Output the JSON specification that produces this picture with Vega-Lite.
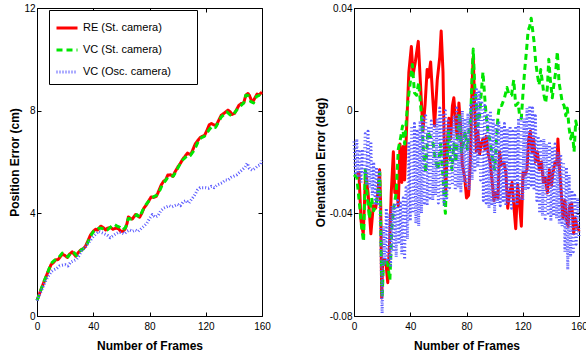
{
"$schema": "https://vega.github.io/schema/vega-lite/v6.json",
"autosize": {"type": "none"},
"padding": {"left": 37, "top": 8, "right": 549, "bottom": 348},
"background": "white",
"spacing": 92,
"bounds": "flush",
"resolve": {"scale": {"color": "independent", "strokeDash": "independent", "strokeWidth": "independent"}},
"datasets": {
"pos": [
{"f":0,"v":0.6,"s":"RE (St. camera)"},{"f":1,"v":0.75,"s":"RE (St. camera)"},{"f":3,"v":1.05,"s":"RE (St. camera)"},{"f":6,"v":1.47,"s":"RE (St. camera)"},{"f":8,"v":1.75,"s":"RE (St. camera)"},{"f":10,"v":2.0,"s":"RE (St. camera)"},{"f":12,"v":2.1,"s":"RE (St. camera)"},{"f":13,"v":2.18,"s":"RE (St. camera)"},{"f":15,"v":2.2,"s":"RE (St. camera)"},{"f":18,"v":2.41,"s":"RE (St. camera)"},{"f":20,"v":2.35,"s":"RE (St. camera)"},{"f":21.5,"v":2.28,"s":"RE (St. camera)"},{"f":23,"v":2.4,"s":"RE (St. camera)"},{"f":25,"v":2.5,"s":"RE (St. camera)"},{"f":27.5,"v":2.33,"s":"RE (St. camera)"},{"f":29,"v":2.45,"s":"RE (St. camera)"},{"f":31,"v":2.57,"s":"RE (St. camera)"},{"f":33,"v":2.62,"s":"RE (St. camera)"},{"f":34.5,"v":2.72,"s":"RE (St. camera)"},{"f":36,"v":2.9,"s":"RE (St. camera)"},{"f":38,"v":3.15,"s":"RE (St. camera)"},{"f":40,"v":3.3,"s":"RE (St. camera)"},{"f":41.7,"v":3.38,"s":"RE (St. camera)"},{"f":43,"v":3.35,"s":"RE (St. camera)"},{"f":45.3,"v":3.5,"s":"RE (St. camera)"},{"f":47,"v":3.45,"s":"RE (St. camera)"},{"f":48.8,"v":3.35,"s":"RE (St. camera)"},{"f":50,"v":3.42,"s":"RE (St. camera)"},{"f":52.4,"v":3.45,"s":"RE (St. camera)"},{"f":54,"v":3.38,"s":"RE (St. camera)"},{"f":56,"v":3.42,"s":"RE (St. camera)"},{"f":58,"v":3.4,"s":"RE (St. camera)"},{"f":59.5,"v":3.3,"s":"RE (St. camera)"},{"f":61,"v":3.3,"s":"RE (St. camera)"},{"f":62.6,"v":3.38,"s":"RE (St. camera)"},{"f":64,"v":3.6,"s":"RE (St. camera)"},{"f":65,"v":3.86,"s":"RE (St. camera)"},{"f":66.5,"v":3.8,"s":"RE (St. camera)"},{"f":67.8,"v":3.78,"s":"RE (St. camera)"},{"f":70,"v":3.95,"s":"RE (St. camera)"},{"f":71.5,"v":3.9,"s":"RE (St. camera)"},{"f":73,"v":3.85,"s":"RE (St. camera)"},{"f":74.5,"v":4.0,"s":"RE (St. camera)"},{"f":76,"v":4.2,"s":"RE (St. camera)"},{"f":78,"v":4.35,"s":"RE (St. camera)"},{"f":79.6,"v":4.5,"s":"RE (St. camera)"},{"f":81.2,"v":4.64,"s":"RE (St. camera)"},{"f":83,"v":4.62,"s":"RE (St. camera)"},{"f":84.8,"v":4.66,"s":"RE (St. camera)"},{"f":86,"v":4.8,"s":"RE (St. camera)"},{"f":88.3,"v":5.1,"s":"RE (St. camera)"},{"f":90,"v":5.25,"s":"RE (St. camera)"},{"f":91.5,"v":5.3,"s":"RE (St. camera)"},{"f":93,"v":5.49,"s":"RE (St. camera)"},{"f":95,"v":5.5,"s":"RE (St. camera)"},{"f":96.6,"v":5.44,"s":"RE (St. camera)"},{"f":98,"v":5.6,"s":"RE (St. camera)"},{"f":100.2,"v":5.81,"s":"RE (St. camera)"},{"f":102,"v":5.95,"s":"RE (St. camera)"},{"f":103.5,"v":6.1,"s":"RE (St. camera)"},{"f":105,"v":6.2,"s":"RE (St. camera)"},{"f":107,"v":6.35,"s":"RE (St. camera)"},{"f":108.5,"v":6.3,"s":"RE (St. camera)"},{"f":109.7,"v":6.33,"s":"RE (St. camera)"},{"f":111,"v":6.5,"s":"RE (St. camera)"},{"f":112.5,"v":6.7,"s":"RE (St. camera)"},{"f":114.5,"v":6.85,"s":"RE (St. camera)"},{"f":116,"v":6.95,"s":"RE (St. camera)"},{"f":117.5,"v":7.0,"s":"RE (St. camera)"},{"f":119.2,"v":7.04,"s":"RE (St. camera)"},{"f":121,"v":7.25,"s":"RE (St. camera)"},{"f":122.5,"v":7.45,"s":"RE (St. camera)"},{"f":124,"v":7.5,"s":"RE (St. camera)"},{"f":125.5,"v":7.45,"s":"RE (St. camera)"},{"f":127.5,"v":7.43,"s":"RE (St. camera)"},{"f":129,"v":7.6,"s":"RE (St. camera)"},{"f":131,"v":7.82,"s":"RE (St. camera)"},{"f":133,"v":7.9,"s":"RE (St. camera)"},{"f":135.8,"v":8.02,"s":"RE (St. camera)"},{"f":137.5,"v":7.95,"s":"RE (St. camera)"},{"f":138.5,"v":7.85,"s":"RE (St. camera)"},{"f":140.5,"v":7.9,"s":"RE (St. camera)"},{"f":142,"v":8.05,"s":"RE (St. camera)"},{"f":143.5,"v":8.2,"s":"RE (St. camera)"},{"f":145.3,"v":8.28,"s":"RE (St. camera)"},{"f":147,"v":8.3,"s":"RE (St. camera)"},{"f":148.5,"v":8.6,"s":"RE (St. camera)"},{"f":150,"v":8.67,"s":"RE (St. camera)"},{"f":151,"v":8.6,"s":"RE (St. camera)"},{"f":152.5,"v":8.4,"s":"RE (St. camera)"},{"f":153.6,"v":8.35,"s":"RE (St. camera)"},{"f":155,"v":8.5,"s":"RE (St. camera)"},{"f":156.5,"v":8.65,"s":"RE (St. camera)"},{"f":157.2,"v":8.6,"s":"RE (St. camera)"},{"f":158.5,"v":8.65,"s":"RE (St. camera)"},{"f":160,"v":8.72,"s":"RE (St. camera)"},
{"f":0,"v":0.6,"s":"VC (St. camera)"},{"f":2,"v":0.9,"s":"VC (St. camera)"},{"f":5,"v":1.35,"s":"VC (St. camera)"},{"f":8,"v":1.75,"s":"VC (St. camera)"},{"f":10,"v":2.05,"s":"VC (St. camera)"},{"f":12,"v":2.15,"s":"VC (St. camera)"},{"f":15,"v":2.25,"s":"VC (St. camera)"},{"f":18,"v":2.45,"s":"VC (St. camera)"},{"f":20,"v":2.4,"s":"VC (St. camera)"},{"f":22,"v":2.3,"s":"VC (St. camera)"},{"f":24,"v":2.45,"s":"VC (St. camera)"},{"f":26,"v":2.5,"s":"VC (St. camera)"},{"f":28,"v":2.35,"s":"VC (St. camera)"},{"f":30,"v":2.5,"s":"VC (St. camera)"},{"f":32,"v":2.6,"s":"VC (St. camera)"},{"f":34,"v":2.65,"s":"VC (St. camera)"},{"f":36,"v":2.85,"s":"VC (St. camera)"},{"f":38,"v":3.1,"s":"VC (St. camera)"},{"f":40,"v":3.28,"s":"VC (St. camera)"},{"f":42,"v":3.35,"s":"VC (St. camera)"},{"f":44,"v":3.42,"s":"VC (St. camera)"},{"f":46,"v":3.42,"s":"VC (St. camera)"},{"f":48,"v":3.35,"s":"VC (St. camera)"},{"f":50,"v":3.35,"s":"VC (St. camera)"},{"f":52,"v":3.45,"s":"VC (St. camera)"},{"f":55,"v":3.57,"s":"VC (St. camera)"},{"f":57,"v":3.5,"s":"VC (St. camera)"},{"f":59,"v":3.45,"s":"VC (St. camera)"},{"f":61,"v":3.35,"s":"VC (St. camera)"},{"f":63,"v":3.45,"s":"VC (St. camera)"},{"f":65,"v":3.8,"s":"VC (St. camera)"},{"f":67,"v":3.78,"s":"VC (St. camera)"},{"f":69,"v":3.85,"s":"VC (St. camera)"},{"f":71,"v":3.95,"s":"VC (St. camera)"},{"f":73,"v":3.85,"s":"VC (St. camera)"},{"f":75,"v":4.1,"s":"VC (St. camera)"},{"f":77,"v":4.3,"s":"VC (St. camera)"},{"f":79,"v":4.45,"s":"VC (St. camera)"},{"f":81,"v":4.55,"s":"VC (St. camera)"},{"f":83,"v":4.65,"s":"VC (St. camera)"},{"f":85,"v":4.7,"s":"VC (St. camera)"},{"f":87,"v":4.85,"s":"VC (St. camera)"},{"f":89,"v":5.1,"s":"VC (St. camera)"},{"f":91,"v":5.25,"s":"VC (St. camera)"},{"f":93,"v":5.4,"s":"VC (St. camera)"},{"f":95,"v":5.45,"s":"VC (St. camera)"},{"f":97,"v":5.45,"s":"VC (St. camera)"},{"f":99,"v":5.65,"s":"VC (St. camera)"},{"f":101,"v":5.85,"s":"VC (St. camera)"},{"f":103,"v":6.05,"s":"VC (St. camera)"},{"f":105,"v":6.15,"s":"VC (St. camera)"},{"f":107,"v":6.25,"s":"VC (St. camera)"},{"f":109,"v":6.25,"s":"VC (St. camera)"},{"f":111,"v":6.4,"s":"VC (St. camera)"},{"f":113,"v":6.6,"s":"VC (St. camera)"},{"f":115,"v":6.85,"s":"VC (St. camera)"},{"f":117,"v":6.95,"s":"VC (St. camera)"},{"f":119,"v":7.0,"s":"VC (St. camera)"},{"f":121,"v":7.15,"s":"VC (St. camera)"},{"f":123,"v":7.3,"s":"VC (St. camera)"},{"f":125,"v":7.4,"s":"VC (St. camera)"},{"f":127,"v":7.35,"s":"VC (St. camera)"},{"f":129,"v":7.55,"s":"VC (St. camera)"},{"f":131,"v":7.75,"s":"VC (St. camera)"},{"f":133,"v":7.85,"s":"VC (St. camera)"},{"f":135,"v":7.95,"s":"VC (St. camera)"},{"f":137,"v":7.85,"s":"VC (St. camera)"},{"f":139,"v":7.8,"s":"VC (St. camera)"},{"f":141,"v":7.95,"s":"VC (St. camera)"},{"f":143,"v":8.1,"s":"VC (St. camera)"},{"f":145,"v":8.2,"s":"VC (St. camera)"},{"f":147,"v":8.3,"s":"VC (St. camera)"},{"f":148.5,"v":8.6,"s":"VC (St. camera)"},{"f":150,"v":8.6,"s":"VC (St. camera)"},{"f":152,"v":8.35,"s":"VC (St. camera)"},{"f":154,"v":8.3,"s":"VC (St. camera)"},{"f":156,"v":8.55,"s":"VC (St. camera)"},{"f":158,"v":8.6,"s":"VC (St. camera)"},{"f":160,"v":8.78,"s":"VC (St. camera)"},
{"f":0,"v":0.6,"s":"VC (Osc. camera)"},{"f":2,"v":0.85,"s":"VC (Osc. camera)"},{"f":4,"v":1.1,"s":"VC (Osc. camera)"},{"f":6,"v":1.35,"s":"VC (Osc. camera)"},{"f":8,"v":1.55,"s":"VC (Osc. camera)"},{"f":10,"v":1.72,"s":"VC (Osc. camera)"},{"f":12,"v":1.8,"s":"VC (Osc. camera)"},{"f":14,"v":1.85,"s":"VC (Osc. camera)"},{"f":16,"v":1.95,"s":"VC (Osc. camera)"},{"f":18,"v":1.98,"s":"VC (Osc. camera)"},{"f":20,"v":2.0,"s":"VC (Osc. camera)"},{"f":22,"v":1.95,"s":"VC (Osc. camera)"},{"f":24,"v":2.1,"s":"VC (Osc. camera)"},{"f":26,"v":2.15,"s":"VC (Osc. camera)"},{"f":28,"v":2.2,"s":"VC (Osc. camera)"},{"f":30,"v":2.35,"s":"VC (Osc. camera)"},{"f":32,"v":2.57,"s":"VC (Osc. camera)"},{"f":34,"v":2.65,"s":"VC (Osc. camera)"},{"f":36,"v":2.8,"s":"VC (Osc. camera)"},{"f":38,"v":2.95,"s":"VC (Osc. camera)"},{"f":40,"v":3.1,"s":"VC (Osc. camera)"},{"f":42,"v":3.2,"s":"VC (Osc. camera)"},{"f":44,"v":3.3,"s":"VC (Osc. camera)"},{"f":46,"v":3.25,"s":"VC (Osc. camera)"},{"f":48,"v":3.2,"s":"VC (Osc. camera)"},{"f":50,"v":3.15,"s":"VC (Osc. camera)"},{"f":52,"v":3.05,"s":"VC (Osc. camera)"},{"f":54,"v":3.12,"s":"VC (Osc. camera)"},{"f":56,"v":3.2,"s":"VC (Osc. camera)"},{"f":58,"v":3.26,"s":"VC (Osc. camera)"},{"f":60,"v":3.25,"s":"VC (Osc. camera)"},{"f":62,"v":3.2,"s":"VC (Osc. camera)"},{"f":64,"v":3.3,"s":"VC (Osc. camera)"},{"f":66,"v":3.35,"s":"VC (Osc. camera)"},{"f":68,"v":3.3,"s":"VC (Osc. camera)"},{"f":70,"v":3.35,"s":"VC (Osc. camera)"},{"f":72,"v":3.3,"s":"VC (Osc. camera)"},{"f":74,"v":3.4,"s":"VC (Osc. camera)"},{"f":76,"v":3.5,"s":"VC (Osc. camera)"},{"f":78,"v":3.6,"s":"VC (Osc. camera)"},{"f":80,"v":3.8,"s":"VC (Osc. camera)"},{"f":82,"v":3.95,"s":"VC (Osc. camera)"},{"f":84,"v":3.85,"s":"VC (Osc. camera)"},{"f":86,"v":3.9,"s":"VC (Osc. camera)"},{"f":88,"v":4.1,"s":"VC (Osc. camera)"},{"f":90,"v":4.2,"s":"VC (Osc. camera)"},{"f":92,"v":4.25,"s":"VC (Osc. camera)"},{"f":94,"v":4.3,"s":"VC (Osc. camera)"},{"f":96,"v":4.25,"s":"VC (Osc. camera)"},{"f":98,"v":4.3,"s":"VC (Osc. camera)"},{"f":100,"v":4.35,"s":"VC (Osc. camera)"},{"f":102,"v":4.3,"s":"VC (Osc. camera)"},{"f":104,"v":4.45,"s":"VC (Osc. camera)"},{"f":106,"v":4.5,"s":"VC (Osc. camera)"},{"f":108,"v":4.4,"s":"VC (Osc. camera)"},{"f":110,"v":4.55,"s":"VC (Osc. camera)"},{"f":112,"v":4.7,"s":"VC (Osc. camera)"},{"f":114,"v":4.9,"s":"VC (Osc. camera)"},{"f":116,"v":5.0,"s":"VC (Osc. camera)"},{"f":118,"v":5.0,"s":"VC (Osc. camera)"},{"f":120,"v":5.0,"s":"VC (Osc. camera)"},{"f":122,"v":4.98,"s":"VC (Osc. camera)"},{"f":124,"v":5.05,"s":"VC (Osc. camera)"},{"f":126,"v":5.0,"s":"VC (Osc. camera)"},{"f":128,"v":5.1,"s":"VC (Osc. camera)"},{"f":130,"v":5.15,"s":"VC (Osc. camera)"},{"f":132,"v":5.2,"s":"VC (Osc. camera)"},{"f":134,"v":5.3,"s":"VC (Osc. camera)"},{"f":136,"v":5.3,"s":"VC (Osc. camera)"},{"f":138,"v":5.4,"s":"VC (Osc. camera)"},{"f":140,"v":5.45,"s":"VC (Osc. camera)"},{"f":142,"v":5.5,"s":"VC (Osc. camera)"},{"f":144,"v":5.6,"s":"VC (Osc. camera)"},{"f":146,"v":5.7,"s":"VC (Osc. camera)"},{"f":148,"v":5.8,"s":"VC (Osc. camera)"},{"f":149.5,"v":5.95,"s":"VC (Osc. camera)"},{"f":151,"v":5.75,"s":"VC (Osc. camera)"},{"f":153,"v":5.68,"s":"VC (Osc. camera)"},{"f":155,"v":5.75,"s":"VC (Osc. camera)"},{"f":157,"v":5.85,"s":"VC (Osc. camera)"},{"f":159,"v":5.9,"s":"VC (Osc. camera)"},{"f":160,"v":6.05,"s":"VC (Osc. camera)"}
],
"ori": [
{"f":2,"v":-0.025,"s":"RE (St. camera)"},{"f":3.5,"v":-0.024,"s":"RE (St. camera)"},{"f":5,"v":-0.043,"s":"RE (St. camera)"},{"f":6.6,"v":-0.048,"s":"RE (St. camera)"},{"f":8.3,"v":-0.024,"s":"RE (St. camera)"},{"f":10,"v":-0.032,"s":"RE (St. camera)"},{"f":12,"v":-0.048,"s":"RE (St. camera)"},{"f":13.7,"v":-0.037,"s":"RE (St. camera)"},{"f":15.4,"v":-0.038,"s":"RE (St. camera)"},{"f":17,"v":-0.032,"s":"RE (St. camera)"},{"f":18.2,"v":-0.023,"s":"RE (St. camera)"},{"f":19,"v":-0.037,"s":"RE (St. camera)"},{"f":19.7,"v":-0.073,"s":"RE (St. camera)"},{"f":20.4,"v":-0.058,"s":"RE (St. camera)"},{"f":22,"v":-0.058,"s":"RE (St. camera)"},{"f":23,"v":-0.061,"s":"RE (St. camera)"},{"f":24,"v":-0.067,"s":"RE (St. camera)"},{"f":25.4,"v":-0.05,"s":"RE (St. camera)"},{"f":26.5,"v":-0.032,"s":"RE (St. camera)"},{"f":28,"v":-0.016,"s":"RE (St. camera)"},{"f":29,"v":-0.032,"s":"RE (St. camera)"},{"f":30.3,"v":-0.029,"s":"RE (St. camera)"},{"f":31.5,"v":-0.037,"s":"RE (St. camera)"},{"f":32.7,"v":-0.013,"s":"RE (St. camera)"},{"f":34,"v":-0.028,"s":"RE (St. camera)"},{"f":35,"v":-0.014,"s":"RE (St. camera)"},{"f":36,"v":-0.027,"s":"RE (St. camera)"},{"f":37.4,"v":-0.007,"s":"RE (St. camera)"},{"f":39,"v":0.015,"s":"RE (St. camera)"},{"f":40.8,"v":0.025,"s":"RE (St. camera)"},{"f":42,"v":0.014,"s":"RE (St. camera)"},{"f":43.6,"v":0.019,"s":"RE (St. camera)"},{"f":45.7,"v":0.027,"s":"RE (St. camera)"},{"f":47.4,"v":0.009,"s":"RE (St. camera)"},{"f":49,"v":-0.008,"s":"RE (St. camera)"},{"f":50.5,"v":0.002,"s":"RE (St. camera)"},{"f":52,"v":0.016,"s":"RE (St. camera)"},{"f":53,"v":0.013,"s":"RE (St. camera)"},{"f":54.5,"v":0.019,"s":"RE (St. camera)"},{"f":56,"v":0.005,"s":"RE (St. camera)"},{"f":57.3,"v":-0.006,"s":"RE (St. camera)"},{"f":59.2,"v":0.012,"s":"RE (St. camera)"},{"f":61,"v":0.021,"s":"RE (St. camera)"},{"f":62,"v":0.031,"s":"RE (St. camera)"},{"f":63.3,"v":0.015,"s":"RE (St. camera)"},{"f":64.4,"v":-0.021,"s":"RE (St. camera)"},{"f":65.2,"v":-0.032,"s":"RE (St. camera)"},{"f":66.3,"v":-0.013,"s":"RE (St. camera)"},{"f":67.5,"v":-0.003,"s":"RE (St. camera)"},{"f":68.7,"v":-0.011,"s":"RE (St. camera)"},{"f":70,"v":0.002,"s":"RE (St. camera)"},{"f":71,"v":0.005,"s":"RE (St. camera)"},{"f":72.3,"v":-0.004,"s":"RE (St. camera)"},{"f":73.5,"v":-0.011,"s":"RE (St. camera)"},{"f":74.6,"v":0.003,"s":"RE (St. camera)"},{"f":75.8,"v":-0.006,"s":"RE (St. camera)"},{"f":77,"v":-0.021,"s":"RE (St. camera)"},{"f":78.7,"v":-0.026,"s":"RE (St. camera)"},{"f":80,"v":-0.034,"s":"RE (St. camera)"},{"f":81.5,"v":-0.033,"s":"RE (St. camera)"},{"f":82.7,"v":-0.02,"s":"RE (St. camera)"},{"f":83.9,"v":0.009,"s":"RE (St. camera)"},{"f":84.8,"v":0.021,"s":"RE (St. camera)"},{"f":85.8,"v":0.002,"s":"RE (St. camera)"},{"f":87,"v":-0.016,"s":"RE (St. camera)"},{"f":88,"v":-0.008,"s":"RE (St. camera)"},{"f":89.3,"v":-0.017,"s":"RE (St. camera)"},{"f":90.5,"v":-0.013,"s":"RE (St. camera)"},{"f":91.7,"v":-0.011,"s":"RE (St. camera)"},{"f":93,"v":-0.015,"s":"RE (St. camera)"},{"f":94,"v":-0.01,"s":"RE (St. camera)"},{"f":95.3,"v":-0.016,"s":"RE (St. camera)"},{"f":97,"v":-0.021,"s":"RE (St. camera)"},{"f":98.3,"v":-0.028,"s":"RE (St. camera)"},{"f":99.5,"v":-0.035,"s":"RE (St. camera)"},{"f":101,"v":-0.032,"s":"RE (St. camera)"},{"f":102.4,"v":-0.034,"s":"RE (St. camera)"},{"f":103.5,"v":-0.016,"s":"RE (St. camera)"},{"f":104.7,"v":-0.021,"s":"RE (St. camera)"},{"f":106.6,"v":-0.02,"s":"RE (St. camera)"},{"f":108,"v":-0.024,"s":"RE (St. camera)"},{"f":109.3,"v":-0.038,"s":"RE (St. camera)"},{"f":110.7,"v":-0.032,"s":"RE (St. camera)"},{"f":112.4,"v":-0.028,"s":"RE (St. camera)"},{"f":113.8,"v":-0.038,"s":"RE (St. camera)"},{"f":115,"v":-0.046,"s":"RE (St. camera)"},{"f":116.4,"v":-0.029,"s":"RE (St. camera)"},{"f":117.8,"v":-0.037,"s":"RE (St. camera)"},{"f":119,"v":-0.045,"s":"RE (St. camera)"},{"f":120.2,"v":-0.024,"s":"RE (St. camera)"},{"f":121.6,"v":-0.025,"s":"RE (St. camera)"},{"f":123,"v":-0.023,"s":"RE (St. camera)"},{"f":124.2,"v":-0.011,"s":"RE (St. camera)"},{"f":125.4,"v":-0.008,"s":"RE (St. camera)"},{"f":126.6,"v":-0.016,"s":"RE (St. camera)"},{"f":127.8,"v":-0.011,"s":"RE (St. camera)"},{"f":129,"v":-0.02,"s":"RE (St. camera)"},{"f":130.4,"v":-0.016,"s":"RE (St. camera)"},{"f":131.8,"v":-0.023,"s":"RE (St. camera)"},{"f":133.3,"v":-0.02,"s":"RE (St. camera)"},{"f":134.7,"v":-0.028,"s":"RE (St. camera)"},{"f":136,"v":-0.026,"s":"RE (St. camera)"},{"f":137.5,"v":-0.032,"s":"RE (St. camera)"},{"f":139,"v":-0.023,"s":"RE (St. camera)"},{"f":140.4,"v":-0.029,"s":"RE (St. camera)"},{"f":141.5,"v":-0.024,"s":"RE (St. camera)"},{"f":143,"v":-0.02,"s":"RE (St. camera)"},{"f":144.2,"v":-0.021,"s":"RE (St. camera)"},{"f":145,"v":-0.011,"s":"RE (St. camera)"},{"f":146.3,"v":-0.024,"s":"RE (St. camera)"},{"f":147.5,"v":-0.033,"s":"RE (St. camera)"},{"f":148.6,"v":-0.042,"s":"RE (St. camera)"},{"f":150,"v":-0.035,"s":"RE (St. camera)"},{"f":151,"v":-0.042,"s":"RE (St. camera)"},{"f":152.2,"v":-0.045,"s":"RE (St. camera)"},{"f":153.4,"v":-0.037,"s":"RE (St. camera)"},{"f":154.8,"v":-0.036,"s":"RE (St. camera)"},{"f":156.2,"v":-0.048,"s":"RE (St. camera)"},{"f":157.4,"v":-0.042,"s":"RE (St. camera)"},{"f":158.6,"v":-0.045,"s":"RE (St. camera)"},{"f":160,"v":-0.047,"s":"RE (St. camera)"},
{"f":0,"v":-0.025,"s":"VC (St. camera)"},{"f":2,"v":-0.026,"s":"VC (St. camera)"},{"f":4,"v":-0.037,"s":"VC (St. camera)"},{"f":5.5,"v":-0.046,"s":"VC (St. camera)"},{"f":6.8,"v":-0.051,"s":"VC (St. camera)"},{"f":8,"v":-0.023,"s":"VC (St. camera)"},{"f":9.5,"v":-0.034,"s":"VC (St. camera)"},{"f":11,"v":-0.042,"s":"VC (St. camera)"},{"f":12.5,"v":-0.034,"s":"VC (St. camera)"},{"f":14,"v":-0.039,"s":"VC (St. camera)"},{"f":15.5,"v":-0.037,"s":"VC (St. camera)"},{"f":17,"v":-0.032,"s":"VC (St. camera)"},{"f":18.3,"v":-0.024,"s":"VC (St. camera)"},{"f":19.2,"v":-0.05,"s":"VC (St. camera)"},{"f":20,"v":-0.073,"s":"VC (St. camera)"},{"f":21,"v":-0.058,"s":"VC (St. camera)"},{"f":22.5,"v":-0.058,"s":"VC (St. camera)"},{"f":24,"v":-0.06,"s":"VC (St. camera)"},{"f":25.5,"v":-0.066,"s":"VC (St. camera)"},{"f":27,"v":-0.045,"s":"VC (St. camera)"},{"f":28.5,"v":-0.037,"s":"VC (St. camera)"},{"f":30,"v":-0.032,"s":"VC (St. camera)"},{"f":31.5,"v":-0.015,"s":"VC (St. camera)"},{"f":33,"v":-0.011,"s":"VC (St. camera)"},{"f":34.5,"v":-0.006,"s":"VC (St. camera)"},{"f":36,"v":-0.013,"s":"VC (St. camera)"},{"f":38,"v":0.002,"s":"VC (St. camera)"},{"f":40,"v":0.011,"s":"VC (St. camera)"},{"f":41.5,"v":0.018,"s":"VC (St. camera)"},{"f":43,"v":0.007,"s":"VC (St. camera)"},{"f":44.5,"v":0.006,"s":"VC (St. camera)"},{"f":46,"v":0.011,"s":"VC (St. camera)"},{"f":48,"v":-0.002,"s":"VC (St. camera)"},{"f":49.5,"v":-0.017,"s":"VC (St. camera)"},{"f":51,"v":-0.024,"s":"VC (St. camera)"},{"f":52.5,"v":-0.008,"s":"VC (St. camera)"},{"f":54,"v":-0.01,"s":"VC (St. camera)"},{"f":56,"v":-0.012,"s":"VC (St. camera)"},{"f":57.8,"v":-0.019,"s":"VC (St. camera)"},{"f":59.7,"v":-0.023,"s":"VC (St. camera)"},{"f":61.6,"v":-0.013,"s":"VC (St. camera)"},{"f":63.3,"v":-0.026,"s":"VC (St. camera)"},{"f":64.4,"v":-0.037,"s":"VC (St. camera)"},{"f":65,"v":-0.04,"s":"VC (St. camera)"},{"f":66,"v":-0.021,"s":"VC (St. camera)"},{"f":67.3,"v":-0.008,"s":"VC (St. camera)"},{"f":68.5,"v":-0.019,"s":"VC (St. camera)"},{"f":69.7,"v":-0.023,"s":"VC (St. camera)"},{"f":71,"v":-0.013,"s":"VC (St. camera)"},{"f":72.5,"v":-0.02,"s":"VC (St. camera)"},{"f":74,"v":-0.007,"s":"VC (St. camera)"},{"f":75,"v":-0.001,"s":"VC (St. camera)"},{"f":76.3,"v":-0.016,"s":"VC (St. camera)"},{"f":77.7,"v":-0.013,"s":"VC (St. camera)"},{"f":79,"v":-0.008,"s":"VC (St. camera)"},{"f":80.6,"v":-0.015,"s":"VC (St. camera)"},{"f":81.7,"v":-0.008,"s":"VC (St. camera)"},{"f":83,"v":-0.003,"s":"VC (St. camera)"},{"f":84,"v":0.015,"s":"VC (St. camera)"},{"f":84.8,"v":0.024,"s":"VC (St. camera)"},{"f":85.8,"v":0.01,"s":"VC (St. camera)"},{"f":87,"v":0.003,"s":"VC (St. camera)"},{"f":88,"v":-0.006,"s":"VC (St. camera)"},{"f":89.3,"v":-0.002,"s":"VC (St. camera)"},{"f":90.5,"v":0.007,"s":"VC (St. camera)"},{"f":91.7,"v":0.015,"s":"VC (St. camera)"},{"f":93,"v":0.005,"s":"VC (St. camera)"},{"f":94,"v":-0.002,"s":"VC (St. camera)"},{"f":95.3,"v":-0.008,"s":"VC (St. camera)"},{"f":96.4,"v":-0.011,"s":"VC (St. camera)"},{"f":97.6,"v":-0.015,"s":"VC (St. camera)"},{"f":98.8,"v":-0.02,"s":"VC (St. camera)"},{"f":100,"v":-0.023,"s":"VC (St. camera)"},{"f":101.2,"v":-0.013,"s":"VC (St. camera)"},{"f":102.4,"v":-0.002,"s":"VC (St. camera)"},{"f":103.5,"v":0.002,"s":"VC (St. camera)"},{"f":105,"v":0.002,"s":"VC (St. camera)"},{"f":107,"v":0.005,"s":"VC (St. camera)"},{"f":108.8,"v":0.009,"s":"VC (St. camera)"},{"f":110.3,"v":0.006,"s":"VC (St. camera)"},{"f":112,"v":0.006,"s":"VC (St. camera)"},{"f":113.6,"v":0.012,"s":"VC (St. camera)"},{"f":115,"v":0.002,"s":"VC (St. camera)"},{"f":116.7,"v":0.003,"s":"VC (St. camera)"},{"f":117.8,"v":-0.002,"s":"VC (St. camera)"},{"f":119,"v":-0.003,"s":"VC (St. camera)"},{"f":120.2,"v":0.007,"s":"VC (St. camera)"},{"f":121.4,"v":0.016,"s":"VC (St. camera)"},{"f":122.6,"v":0.023,"s":"VC (St. camera)"},{"f":123.8,"v":0.031,"s":"VC (St. camera)"},{"f":125,"v":0.033,"s":"VC (St. camera)"},{"f":126,"v":0.036,"s":"VC (St. camera)"},{"f":126.9,"v":0.032,"s":"VC (St. camera)"},{"f":128,"v":0.027,"s":"VC (St. camera)"},{"f":129.2,"v":0.019,"s":"VC (St. camera)"},{"f":130.4,"v":0.014,"s":"VC (St. camera)"},{"f":131.6,"v":0.01,"s":"VC (St. camera)"},{"f":132.8,"v":0.016,"s":"VC (St. camera)"},{"f":134,"v":0.011,"s":"VC (St. camera)"},{"f":135.1,"v":0.006,"s":"VC (St. camera)"},{"f":136.3,"v":0.003,"s":"VC (St. camera)"},{"f":137.5,"v":0.009,"s":"VC (St. camera)"},{"f":138.5,"v":0.02,"s":"VC (St. camera)"},{"f":139.6,"v":0.012,"s":"VC (St. camera)"},{"f":141,"v":0.005,"s":"VC (St. camera)"},{"f":142.3,"v":0.011,"s":"VC (St. camera)"},{"f":143.4,"v":0.015,"s":"VC (St. camera)"},{"f":144.6,"v":0.023,"s":"VC (St. camera)"},{"f":145.8,"v":0.011,"s":"VC (St. camera)"},{"f":147,"v":0.007,"s":"VC (St. camera)"},{"f":148.2,"v":0.003,"s":"VC (St. camera)"},{"f":149.4,"v":0.002,"s":"VC (St. camera)"},{"f":150.6,"v":-0.002,"s":"VC (St. camera)"},{"f":151.7,"v":0.001,"s":"VC (St. camera)"},{"f":153,"v":-0.007,"s":"VC (St. camera)"},{"f":154.1,"v":-0.011,"s":"VC (St. camera)"},{"f":155.3,"v":-0.008,"s":"VC (St. camera)"},{"f":156.5,"v":-0.016,"s":"VC (St. camera)"},{"f":157.7,"v":-0.004,"s":"VC (St. camera)"},{"f":158.8,"v":-0.007,"s":"VC (St. camera)"},{"f":160,"v":-0.007,"s":"VC (St. camera)"},
{"f":0,"v":-0.012,"s":"VC (Osc. camera)"},{"f":1,"v":-0.025,"s":"VC (Osc. camera)"},{"f":2,"v":-0.011,"s":"VC (Osc. camera)"},{"f":3,"v":-0.026,"s":"VC (Osc. camera)"},{"f":4,"v":-0.016,"s":"VC (Osc. camera)"},{"f":5,"v":-0.028,"s":"VC (Osc. camera)"},{"f":6,"v":-0.015,"s":"VC (Osc. camera)"},{"f":7,"v":-0.024,"s":"VC (Osc. camera)"},{"f":8,"v":-0.009,"s":"VC (Osc. camera)"},{"f":9,"v":-0.029,"s":"VC (Osc. camera)"},{"f":10,"v":-0.008,"s":"VC (Osc. camera)"},{"f":11,"v":-0.03,"s":"VC (Osc. camera)"},{"f":12,"v":-0.012,"s":"VC (Osc. camera)"},{"f":13,"v":-0.033,"s":"VC (Osc. camera)"},{"f":14,"v":-0.02,"s":"VC (Osc. camera)"},{"f":15,"v":-0.036,"s":"VC (Osc. camera)"},{"f":16,"v":-0.022,"s":"VC (Osc. camera)"},{"f":17,"v":-0.037,"s":"VC (Osc. camera)"},{"f":18,"v":-0.024,"s":"VC (Osc. camera)"},{"f":19,"v":-0.05,"s":"VC (Osc. camera)"},{"f":20,"v":-0.079,"s":"VC (Osc. camera)"},{"f":21,"v":-0.045,"s":"VC (Osc. camera)"},{"f":22,"v":-0.06,"s":"VC (Osc. camera)"},{"f":23,"v":-0.038,"s":"VC (Osc. camera)"},{"f":24,"v":-0.058,"s":"VC (Osc. camera)"},{"f":25,"v":-0.04,"s":"VC (Osc. camera)"},{"f":26,"v":-0.061,"s":"VC (Osc. camera)"},{"f":27,"v":-0.037,"s":"VC (Osc. camera)"},{"f":28,"v":-0.055,"s":"VC (Osc. camera)"},{"f":29,"v":-0.036,"s":"VC (Osc. camera)"},{"f":30,"v":-0.057,"s":"VC (Osc. camera)"},{"f":31,"v":-0.035,"s":"VC (Osc. camera)"},{"f":32,"v":-0.052,"s":"VC (Osc. camera)"},{"f":33,"v":-0.036,"s":"VC (Osc. camera)"},{"f":34,"v":-0.056,"s":"VC (Osc. camera)"},{"f":35,"v":-0.034,"s":"VC (Osc. camera)"},{"f":36,"v":-0.058,"s":"VC (Osc. camera)"},{"f":37,"v":-0.03,"s":"VC (Osc. camera)"},{"f":38,"v":-0.05,"s":"VC (Osc. camera)"},{"f":39,"v":-0.012,"s":"VC (Osc. camera)"},{"f":40,"v":-0.043,"s":"VC (Osc. camera)"},{"f":41,"v":-0.006,"s":"VC (Osc. camera)"},{"f":42,"v":-0.04,"s":"VC (Osc. camera)"},{"f":43,"v":-0.005,"s":"VC (Osc. camera)"},{"f":44,"v":-0.044,"s":"VC (Osc. camera)"},{"f":45,"v":-0.008,"s":"VC (Osc. camera)"},{"f":46,"v":-0.045,"s":"VC (Osc. camera)"},{"f":47,"v":-0.004,"s":"VC (Osc. camera)"},{"f":48,"v":-0.04,"s":"VC (Osc. camera)"},{"f":49,"v":-0.003,"s":"VC (Osc. camera)"},{"f":50,"v":-0.036,"s":"VC (Osc. camera)"},{"f":51,"v":-0.002,"s":"VC (Osc. camera)"},{"f":52,"v":-0.037,"s":"VC (Osc. camera)"},{"f":53,"v":-0.006,"s":"VC (Osc. camera)"},{"f":54,"v":-0.034,"s":"VC (Osc. camera)"},{"f":55,"v":-0.004,"s":"VC (Osc. camera)"},{"f":56,"v":-0.035,"s":"VC (Osc. camera)"},{"f":57,"v":-0.006,"s":"VC (Osc. camera)"},{"f":58,"v":-0.033,"s":"VC (Osc. camera)"},{"f":59,"v":-0.003,"s":"VC (Osc. camera)"},{"f":60,"v":-0.036,"s":"VC (Osc. camera)"},{"f":61,"v":0.001,"s":"VC (Osc. camera)"},{"f":62,"v":-0.035,"s":"VC (Osc. camera)"},{"f":63,"v":-0.001,"s":"VC (Osc. camera)"},{"f":64,"v":-0.037,"s":"VC (Osc. camera)"},{"f":65,"v":0.0,"s":"VC (Osc. camera)"},{"f":66,"v":-0.034,"s":"VC (Osc. camera)"},{"f":67,"v":-0.004,"s":"VC (Osc. camera)"},{"f":68,"v":-0.03,"s":"VC (Osc. camera)"},{"f":69,"v":-0.006,"s":"VC (Osc. camera)"},{"f":70,"v":-0.029,"s":"VC (Osc. camera)"},{"f":71,"v":-0.002,"s":"VC (Osc. camera)"},{"f":72,"v":-0.031,"s":"VC (Osc. camera)"},{"f":73,"v":0.001,"s":"VC (Osc. camera)"},{"f":74,"v":-0.03,"s":"VC (Osc. camera)"},{"f":75,"v":-0.002,"s":"VC (Osc. camera)"},{"f":76,"v":-0.032,"s":"VC (Osc. camera)"},{"f":77,"v":0.0,"s":"VC (Osc. camera)"},{"f":78,"v":-0.028,"s":"VC (Osc. camera)"},{"f":79,"v":-0.003,"s":"VC (Osc. camera)"},{"f":80,"v":-0.03,"s":"VC (Osc. camera)"},{"f":81,"v":-0.001,"s":"VC (Osc. camera)"},{"f":82,"v":-0.031,"s":"VC (Osc. camera)"},{"f":83,"v":0.002,"s":"VC (Osc. camera)"},{"f":84,"v":-0.027,"s":"VC (Osc. camera)"},{"f":85,"v":0.006,"s":"VC (Osc. camera)"},{"f":86,"v":-0.024,"s":"VC (Osc. camera)"},{"f":87,"v":0.009,"s":"VC (Osc. camera)"},{"f":88,"v":-0.022,"s":"VC (Osc. camera)"},{"f":89,"v":0.008,"s":"VC (Osc. camera)"},{"f":90,"v":-0.027,"s":"VC (Osc. camera)"},{"f":91,"v":0.003,"s":"VC (Osc. camera)"},{"f":92,"v":-0.035,"s":"VC (Osc. camera)"},{"f":93,"v":0.002,"s":"VC (Osc. camera)"},{"f":94,"v":-0.036,"s":"VC (Osc. camera)"},{"f":95,"v":-0.001,"s":"VC (Osc. camera)"},{"f":96,"v":-0.038,"s":"VC (Osc. camera)"},{"f":97,"v":0.0,"s":"VC (Osc. camera)"},{"f":98,"v":-0.037,"s":"VC (Osc. camera)"},{"f":99,"v":-0.003,"s":"VC (Osc. camera)"},{"f":100,"v":-0.04,"s":"VC (Osc. camera)"},{"f":101,"v":-0.005,"s":"VC (Osc. camera)"},{"f":102,"v":-0.036,"s":"VC (Osc. camera)"},{"f":103,"v":-0.004,"s":"VC (Osc. camera)"},{"f":104,"v":-0.037,"s":"VC (Osc. camera)"},{"f":105,"v":-0.006,"s":"VC (Osc. camera)"},{"f":106,"v":-0.035,"s":"VC (Osc. camera)"},{"f":107,"v":-0.005,"s":"VC (Osc. camera)"},{"f":108,"v":-0.037,"s":"VC (Osc. camera)"},{"f":109,"v":-0.007,"s":"VC (Osc. camera)"},{"f":110,"v":-0.036,"s":"VC (Osc. camera)"},{"f":111,"v":-0.006,"s":"VC (Osc. camera)"},{"f":112,"v":-0.038,"s":"VC (Osc. camera)"},{"f":113,"v":-0.008,"s":"VC (Osc. camera)"},{"f":114,"v":-0.036,"s":"VC (Osc. camera)"},{"f":115,"v":-0.006,"s":"VC (Osc. camera)"},{"f":116,"v":-0.037,"s":"VC (Osc. camera)"},{"f":117,"v":-0.003,"s":"VC (Osc. camera)"},{"f":118,"v":-0.034,"s":"VC (Osc. camera)"},{"f":119,"v":-0.002,"s":"VC (Osc. camera)"},{"f":120,"v":-0.035,"s":"VC (Osc. camera)"},{"f":121,"v":-0.003,"s":"VC (Osc. camera)"},{"f":122,"v":-0.031,"s":"VC (Osc. camera)"},{"f":123,"v":0.001,"s":"VC (Osc. camera)"},{"f":124,"v":-0.03,"s":"VC (Osc. camera)"},{"f":125,"v":0.002,"s":"VC (Osc. camera)"},{"f":126,"v":-0.029,"s":"VC (Osc. camera)"},{"f":127,"v":0.001,"s":"VC (Osc. camera)"},{"f":128,"v":-0.031,"s":"VC (Osc. camera)"},{"f":129,"v":-0.002,"s":"VC (Osc. camera)"},{"f":130,"v":-0.035,"s":"VC (Osc. camera)"},{"f":131,"v":-0.01,"s":"VC (Osc. camera)"},{"f":132,"v":-0.04,"s":"VC (Osc. camera)"},{"f":133,"v":-0.012,"s":"VC (Osc. camera)"},{"f":134,"v":-0.041,"s":"VC (Osc. camera)"},{"f":135,"v":-0.011,"s":"VC (Osc. camera)"},{"f":136,"v":-0.042,"s":"VC (Osc. camera)"},{"f":137,"v":-0.013,"s":"VC (Osc. camera)"},{"f":138,"v":-0.04,"s":"VC (Osc. camera)"},{"f":139,"v":-0.012,"s":"VC (Osc. camera)"},{"f":140,"v":-0.043,"s":"VC (Osc. camera)"},{"f":141,"v":-0.014,"s":"VC (Osc. camera)"},{"f":142,"v":-0.041,"s":"VC (Osc. camera)"},{"f":143,"v":-0.013,"s":"VC (Osc. camera)"},{"f":144,"v":-0.042,"s":"VC (Osc. camera)"},{"f":145,"v":-0.016,"s":"VC (Osc. camera)"},{"f":146,"v":-0.044,"s":"VC (Osc. camera)"},{"f":147,"v":-0.017,"s":"VC (Osc. camera)"},{"f":148,"v":-0.045,"s":"VC (Osc. camera)"},{"f":149,"v":-0.02,"s":"VC (Osc. camera)"},{"f":150,"v":-0.055,"s":"VC (Osc. camera)"},{"f":151,"v":-0.022,"s":"VC (Osc. camera)"},{"f":152,"v":-0.062,"s":"VC (Osc. camera)"},{"f":153,"v":-0.025,"s":"VC (Osc. camera)"},{"f":154,"v":-0.057,"s":"VC (Osc. camera)"},{"f":155,"v":-0.031,"s":"VC (Osc. camera)"},{"f":156,"v":-0.055,"s":"VC (Osc. camera)"},{"f":157,"v":-0.033,"s":"VC (Osc. camera)"},{"f":158,"v":-0.052,"s":"VC (Osc. camera)"},{"f":159,"v":-0.034,"s":"VC (Osc. camera)"},{"f":160,"v":-0.049,"s":"VC (Osc. camera)"}
]
},
"hconcat": [
{
"width": 225, "height": 308,
"data": {"name": "pos"},
"layer": [
{
"mark": {"type": "line", "strokeCap": "butt", "strokeJoin": "round"},
"encoding": {
"x": {"field": "f", "type": "quantitative", "scale": {"domain": [0, 160], "nice": false, "zero": false},
"axis": {"orient": "bottom", "values": [0, 40, 80, 120, 160], "title": "Number of Frames"}},
"y": {"field": "v", "type": "quantitative", "scale": {"domain": [0, 12], "nice": false},
"axis": {"orient": "left", "values": [0, 4, 8, 12], "title": "Position Error (cm)"}},
"color": {"field": "s", "type": "nominal", "sort": null,
"scale": {"domain": ["RE (St. camera)", "VC (St. camera)", "VC (Osc. camera)"], "range": ["#ff0000", "#00e600", "#5a5aff"]},
"legend": {"title": "\u00a0", "titleOrient": "right", "titlePadding": 20}},
"strokeDash": {"field": "s", "type": "nominal", "sort": null,
"scale": {"domain": ["RE (St. camera)", "VC (St. camera)", "VC (Osc. camera)"], "range": [[1, 0], [6, 4], [1, 2]]},
"legend": {"title": "\u00a0", "titleOrient": "right", "titlePadding": 20}},
"strokeWidth": {"field": "s", "type": "nominal", "sort": null,
"scale": {"domain": ["RE (St. camera)", "VC (St. camera)", "VC (Osc. camera)"], "range": [3, 3, 1]},
"legend": {"title": "\u00a0", "titleOrient": "right", "titlePadding": 20}},
"opacity": {"field": "s", "type": "nominal", "sort": null,
"scale": {"domain": ["RE (St. camera)", "VC (St. camera)", "VC (Osc. camera)"], "range": [1, 1, 0.75]},
"legend": null}
}
},
{
"mark": {"type": "point", "opacity": 0},
"encoding": {
"x": {"field": "f", "type": "quantitative", "axis": {"orient": "top", "values": [0, 40, 80, 120, 160], "labels": false, "title": null}},
"y": {"field": "v", "type": "quantitative", "axis": {"orient": "right", "values": [0, 4, 8, 12], "labels": false, "title": null}}
}
}
],
"resolve": {"axis": {"x": "independent", "y": "independent"}}
},
{
"width": 225, "height": 308,
"data": {"name": "ori"},
"layer": [
{
"mark": {"type": "line", "strokeCap": "butt", "strokeJoin": "round"},
"encoding": {
"x": {"field": "f", "type": "quantitative", "scale": {"domain": [0, 160], "nice": false, "zero": false},
"axis": {"orient": "bottom", "values": [0, 40, 80, 120, 160], "title": "Number of Frames"}},
"y": {"field": "v", "type": "quantitative", "scale": {"domain": [-0.08, 0.04], "nice": false, "zero": false},
"axis": {"orient": "left", "values": [-0.08, -0.04, 0, 0.04], "labelExpr": "toString(datum.value)", "title": "Orientation Error (deg)"}},
"color": {"field": "s", "type": "nominal", "sort": null,
"scale": {"domain": ["RE (St. camera)", "VC (St. camera)", "VC (Osc. camera)"], "range": ["#ff0000", "#00e600", "#5a5aff"]},
"legend": null},
"strokeDash": {"field": "s", "type": "nominal", "sort": null,
"scale": {"domain": ["RE (St. camera)", "VC (St. camera)", "VC (Osc. camera)"], "range": [[1, 0], [6, 4], [1, 2.5]]},
"legend": null},
"strokeWidth": {"field": "s", "type": "nominal", "sort": null,
"scale": {"domain": ["RE (St. camera)", "VC (St. camera)", "VC (Osc. camera)"], "range": [3, 3, 1]},
"legend": null},
"opacity": {"field": "s", "type": "nominal", "sort": null,
"scale": {"domain": ["RE (St. camera)", "VC (St. camera)", "VC (Osc. camera)"], "range": [1, 1, 0.45]},
"legend": null}
}
},
{
"mark": {"type": "point", "opacity": 0},
"encoding": {
"x": {"field": "f", "type": "quantitative", "axis": {"orient": "top", "values": [0, 40, 80, 120, 160], "labels": false, "title": null}},
"y": {"field": "v", "type": "quantitative", "axis": {"orient": "right", "values": [-0.08, -0.04, 0, 0.04], "labels": false, "title": null}}
}
}
],
"resolve": {"axis": {"x": "independent", "y": "independent"}}
}
],
"config": {
"font": "Liberation Sans",
"view": {"stroke": "black", "strokeWidth": 1},
"axis": {"grid": false, "domain": false, "ticks": true, "tickColor": "black", "tickSize": -4, "tickWidth": 1,
"labelFont": "Liberation Sans", "labelFontSize": 10, "labelColor": "black", "labelPadding": 6, "labelFlush": false, "labelOverlap": false,
"titleFont": "Liberation Sans", "titleFontSize": 12, "titleFontWeight": "bold", "titleColor": "black", "titlePadding": 3},
"axisX": {"labelPadding": 9, "titlePadding": 9},
"axisY": {"titlePadding": 2},
"legend": {"orient": "none", "legendX": 12, "legendY": 2, "strokeColor": "black", "fillColor": "white", "padding": 6,
"labelFont": "Liberation Sans", "labelFontSize": 11, "labelColor": "black", "labelOffset": 4,
"symbolType": "stroke", "symbolSize": 441, "rowPadding": 4, "titleFontSize": 11}
}
}
